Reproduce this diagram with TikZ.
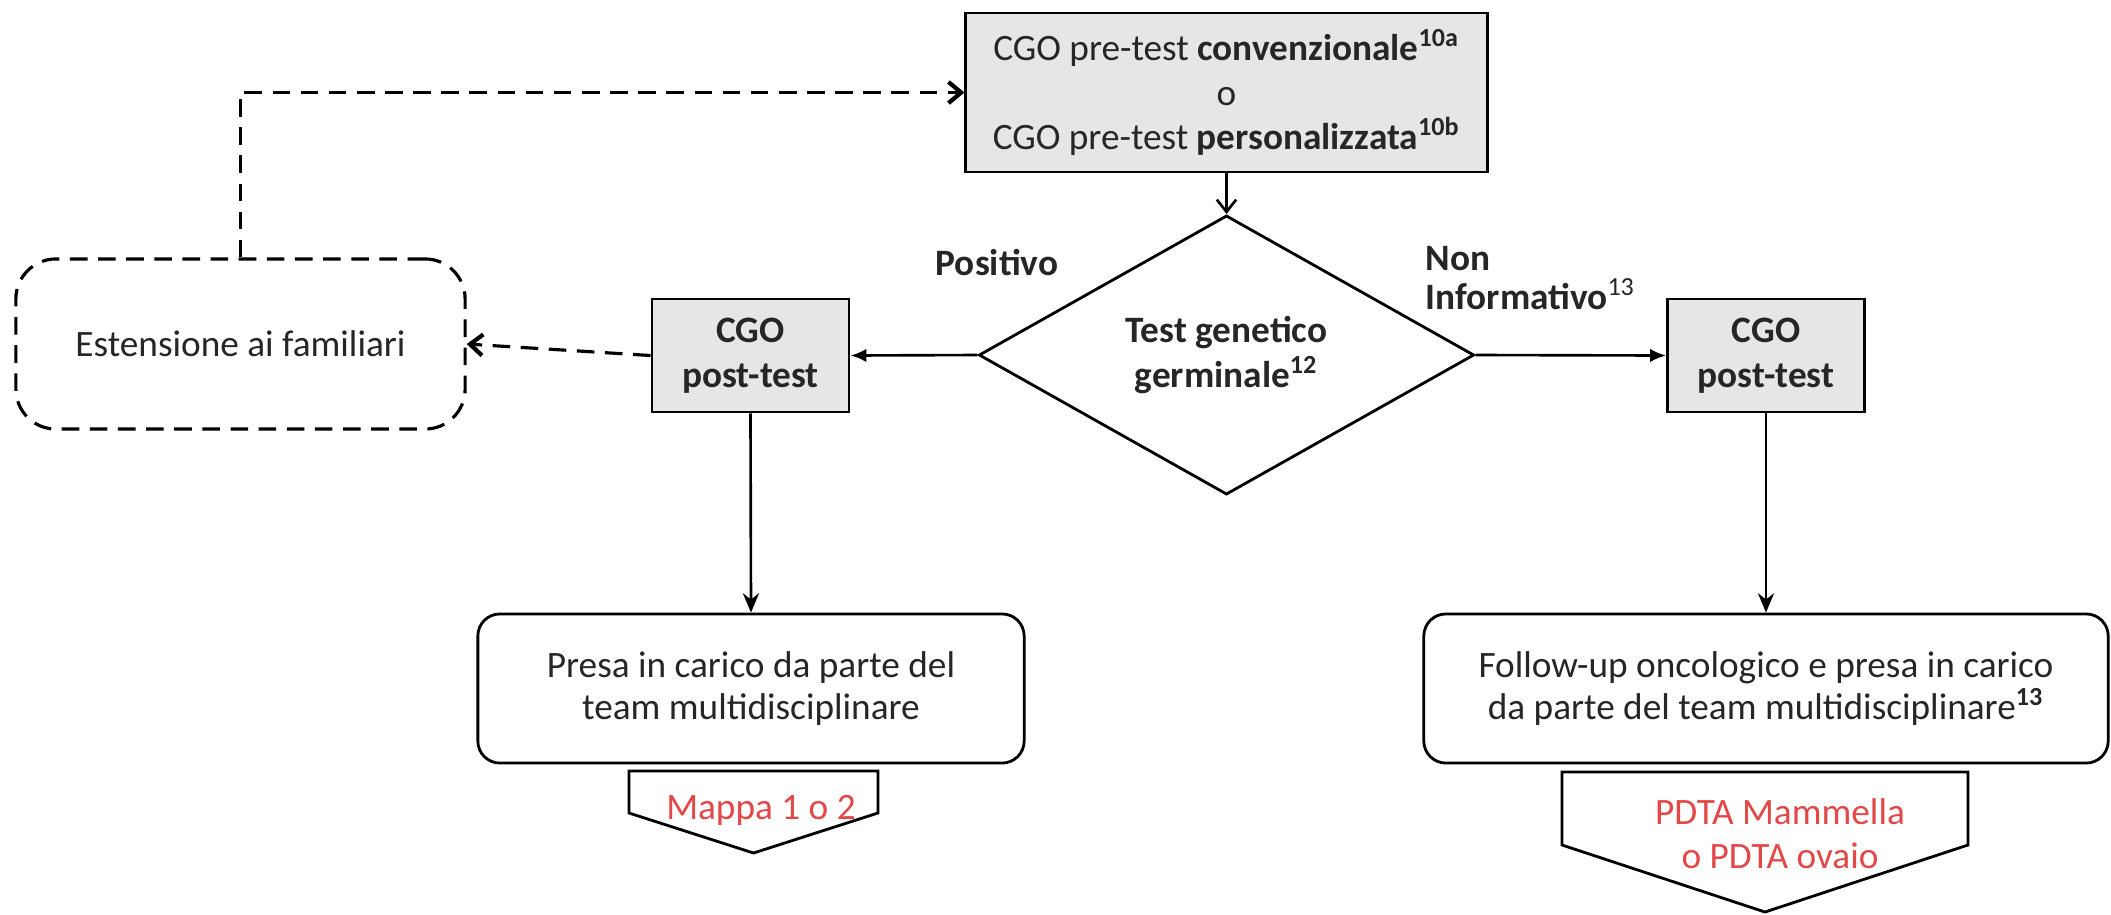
\documentclass[tikz,border=0pt]{standalone}
\usepackage{fontspec}
\setmainfont{Carlito}
\usetikzlibrary{arrows.meta,shapes.geometric,calc}
\definecolor{txt}{RGB}{38,38,38}
\definecolor{boxgray}{RGB}{230,230,230}
\definecolor{pdtared}{RGB}{226,72,72}
\begin{document}
\begin{tikzpicture}[x=0.01cm,y=-0.01cm,
  every node/.style={font=\fontsize{10.6}{12.2}\selectfont, text=txt},
  graybox/.style={draw=black, line width=0.8pt, fill=boxgray, inner sep=0pt, align=center},
  roundbox/.style={draw=black, line width=0.8pt, rounded corners=0.22cm, inner sep=0pt, align=center},
  dashbox/.style={draw=black, line width=0.9pt, dash pattern=on 5pt off 3pt, rounded corners=0.4cm, inner sep=0pt, align=center},
  decision/.style={draw=black, line width=0.8pt, diamond, inner sep=0pt, align=center, font=\fontsize{10.6}{10.8}\selectfont\bfseries},
  conn/.style={draw=black, line width=0.75pt},
  filledtip/.style={conn, -{Latex[length=4.5pt,width=3.8pt]}},
  downtip/.style={conn, -{Stealth[length=5.5pt,width=4.6pt]}},
  opentip/.style={conn, -{Straight Barb[length=3.5pt,width=5.5pt]}},
  dashconn/.style={draw=black, line width=0.9pt, dash pattern=on 5pt off 3pt, -{Straight Barb[length=3.6pt,width=6pt,line width=1.2pt]}},
  pent/.style={draw=black, line width=0.8pt},
  redtxt/.style={text=pdtared, align=center, font=\fontsize{10.6}{12.6}\selectfont},
  lbl/.style={font=\fontsize{10.6}{11}\selectfont\bfseries, align=left, inner sep=0pt}
]
\useasboundingbox (0,0) rectangle (2111,914);

% nodes
\node[graybox, minimum width=5.21cm, minimum height=1.59cm] (top) at (1226.5,92.5)
  {CGO pre-test \textbf{convenzionale\textsuperscript{10a}}\\[0.5pt] o\\[0.5pt] CGO pre-test \textbf{personalizzata\textsuperscript{10b}}};

\node[decision, minimum width=4.95cm, minimum height=1.76cm] (dia) at (1226.5,355)
  {Test genetico\\[2pt] germinale\textsuperscript{12}};

\node[graybox, minimum width=1.97cm, minimum height=1.13cm, font=\fontsize{10.6}{12.8}\selectfont\bfseries] (lcgo) at (750.5,355.5)
  {CGO\\post-test};
\node[graybox, minimum width=1.97cm, minimum height=1.13cm, font=\fontsize{10.6}{12.8}\selectfont\bfseries] (rcgo) at (1766,355.5)
  {CGO\\post-test};

\node[dashbox, minimum width=4.49cm, minimum height=1.70cm] (fam) at (240.5,344)
  {Estensione ai familiari};

\node[roundbox, minimum width=5.46cm, minimum height=1.49cm] (lbox) at (751,688.5)
  {Presa in carico da parte del\\ team multidisciplinare};
\node[roundbox, minimum width=6.84cm, minimum height=1.49cm] (rbox) at (1766,688.5)
  {Follow-up oncologico e presa in carico\\ da parte del team multidisciplinare\textsuperscript{\textbf{13}}};

% labels
\node[lbl, anchor=base west] (pos) at (935,275) {Positivo};
\node[lbl, anchor=west] (noninf) at (1425,278) {Non\\Informativo\textsuperscript{\mdseries 13}};

% pentagons (off-page connectors)
\draw[pent] (629,771) -- (878,771) -- (878,813) -- (753.5,853) -- (629,813) -- cycle;
\node[redtxt, anchor=base] (mappa) at (761,819) {Mappa 1 o 2};
\draw[pent] (1562,772) -- (1968,772) -- (1968,845) -- (1765,912) -- (1562,845) -- cycle;
\node[redtxt, anchor=center] (pdta) at (1780,834) {PDTA Mammella\\ o PDTA ovaio};

% connectors
\draw[opentip] (top.south) -- (dia.north);
\draw[filledtip] (dia.west) -- (lcgo.east);
\draw[filledtip] (dia.east) -- (rcgo.west);
\draw[dashconn] (lcgo.west) -- (fam.east);
\draw[dashconn] (fam.north) |- (top.west);
\draw[downtip] (lcgo.south) -- (lbox.north);
\draw[downtip] (rcgo.south) -- (rbox.north);
\end{tikzpicture}
\end{document}
